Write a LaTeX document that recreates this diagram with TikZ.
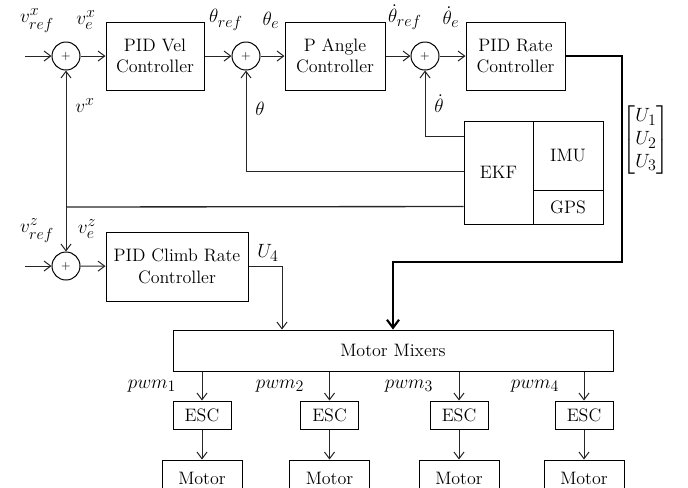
\documentclass[tikz,border=0pt]{standalone}
\usepackage{amsmath}
\usetikzlibrary{arrows.meta,calc}
\DeclareMathSizes{15}{15}{11.5}{9}
\begin{document}
\begin{tikzpicture}[x=0.75pt,y=-0.75pt,
  font=\fontsize{13.5}{16}\selectfont,
  line/.style={draw=black!85, line width=0.75pt},
  arr/.style={line, -{Straight Barb[length=5pt,width=7.5pt]}},
  thickarr/.style={draw=black, line width=2pt, -{Straight Barb[length=6pt,width=9pt,line width=1.6pt]}},
  blk/.style={draw=black, line width=0.75pt, align=center, inner sep=0pt},
  sum/.style={draw=black, line width=0.75pt, circle, minimum size=21pt, inner sep=0pt, font=\fontsize{9}{9}\selectfont},
  lbl/.style={inner sep=0pt, font=\fontsize{15}{17}\selectfont}]
\useasboundingbox (0,0) rectangle (688,487);

% summing junctions
\node[sum] (s1) at (66,56) {+};
\node[sum] (s2) at (246,56) {+};
\node[sum] (s3) at (425,56) {+};
\node[sum] (s4) at (66,266) {+};

% blocks
\node[blk, minimum width=73.5pt, minimum height=51pt] (vel) at (155,56) {PID Vel\\Controller};
\node[blk, minimum width=75pt, minimum height=51pt] (ang) at (335,56) {P Angle\\Controller};
\node[blk, minimum width=74.25pt, minimum height=51pt] (rate) at (515.5,56) {PID Rate\\Controller};
\node[blk, minimum width=106.5pt, minimum height=51.75pt] (climb) at (177,266.5) {PID Climb Rate\\Controller};
\node[blk, minimum width=51.75pt, minimum height=77.25pt] (ekf) at (498.5,172.5) {EKF};
\node[blk, minimum width=52.5pt, minimum height=51.75pt] (imu) at (568,155.5) {IMU};
\node[blk, minimum width=52.5pt, minimum height=25.5pt] (gps) at (568,207) {GPS};
\node[blk, minimum width=330pt, minimum height=30.75pt] (mix) at (393,350.5) {Motor Mixers};

\foreach \i/\x in {1/202,2/329.5,3/459,4/584}{
  \node[blk, minimum width=43.5pt, minimum height=21pt] (esc\i) at (\x,415) {ESC};
  \node[blk, minimum width=60pt, minimum height=27pt] (mot\i) at (\x,478) {Motor};
}

% coordinates
\coordinate (in1) at (25,56);
\coordinate (in4) at (25,266);
\coordinate (rc1) at (622,56);
\coordinate (rc2) at (622,262);
\coordinate (rc3) at (393,262);
\coordinate (u4a) at (282,266.5);
\coordinate (fb1) at ($(ekf.north west)+(0,16)$);
\coordinate (fb2) at ($(ekf.north west)+(0,51)$);
\coordinate (fb3) at ($(ekf.north west)+(0,86)$);
\coordinate (vx) at (66,207);

% forward path
\draw[arr] (in1) -- (s1);
\draw[arr] (s1) -- (vel);
\draw[arr] (vel) -- (s2);
\draw[arr] (s2) -- (ang);
\draw[arr] (ang) -- (s3);
\draw[arr] (s3) -- (rate);
\draw[thickarr] (rate.east) -- (rc1) -- (rc2) -- (rc3) -- (rc3 |- mix.north);

% feedback
\draw[arr] (fb1) -| (s3.south);
\draw[arr] (fb2) -| (s2.south);
\draw[line, line width=1pt] (fb3) -- (vx);
\draw[arr] (vx) -- (s1.south);
\draw[arr] (vx) -- (s4.north);

% climb path
\draw[arr] (in4) -- (s4);
\draw[arr] (s4) -- (climb);
\draw[arr] (climb.east |- u4a) -- (u4a) -- (u4a |- mix.north);

% mixer outputs
\foreach \i in {1,2,3,4}{
  \draw[arr] (esc\i.north |- mix.south) -- (esc\i.north);
  \draw[arr] (esc\i.south) -- (mot\i.north);
}

% labels
\node[lbl] (l1) at (37,21) {$v^x_{ref}$};
\node[lbl] (l2) at (86,20) {$v^x_e$};
\node[lbl] (l3) at (226,20) {$\theta_{ref}$};
\node[lbl] (l4) at (271,20) {$\theta_e$};
\node[lbl] (l5) at (405,17) {$\dot\theta_{ref}$};
\node[lbl] (l6) at (451,17) {$\dot\theta_e$};
\node[lbl] (l7) at (85,106) {$v^x$};
\node[lbl] (l8) at (260,109) {$\theta$};
\node[lbl] (l9) at (439,104) {$\dot\theta$};
\node[lbl] (l10) at (646,140) {$\begin{bmatrix}U_1\\U_2\\U_3\end{bmatrix}$};
\node[lbl] (l11) at (37,231) {$v^z_{ref}$};
\node[lbl] (l12) at (87,229) {$v^z_e$};
\node[lbl] (l13) at (268,253) {$U_4$};
\node[lbl] (l14) at (152,386) {$pwm_1$};
\node[lbl] (l15) at (280,386) {$pwm_2$};
\node[lbl] (l16) at (409,386) {$pwm_3$};
\node[lbl] (l17) at (535,386) {$pwm_4$};
\end{tikzpicture}
\end{document}
